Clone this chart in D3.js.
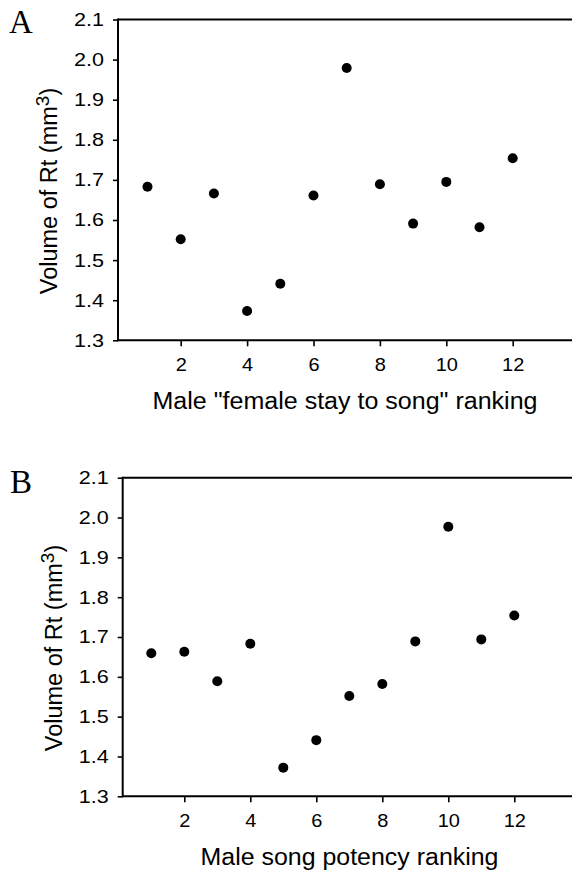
<!DOCTYPE html>
<html>
<head>
<meta charset="utf-8">
<script src="https://cdn.jsdelivr.net/npm/d3@7"></script>
<style>
  html, body { margin: 0; padding: 0; background: #fff; }
  svg { display: block; }
  text { font-family: "Liberation Sans", Arial, sans-serif; fill: #000; }
</style>
</head>
<body>
<svg id="chart" width="572" height="874"></svg>
<script>
// ---- data ----
const rankA = [1, 2, 3, 4, 5, 6, 7, 8, 9, 10, 11, 12];
const volumeA = [1.683, 1.552, 1.666, 1.373, 1.441, 1.661, 1.979, 1.689, 1.591, 1.695, 1.582, 1.754];
const rankB = [1, 2, 3, 4, 5, 6, 7, 8, 9, 10, 11, 12];
const volumeB = [1.659, 1.663, 1.589, 1.683, 1.372, 1.441, 1.552, 1.582, 1.689, 1.977, 1.694, 1.754];
const xTicks = [2, 4, 6, 8, 10, 12];
const yTicks = [1.3, 1.4, 1.5, 1.6, 1.7, 1.8, 1.9, 2.0, 2.1];
const xTitleA = 'Male "female stay to song" ranking';
const xTitleB = 'Male song potency ranking';
const yTitle = 'Volume of Rt (mm';

const svg = d3.select("#chart");
const W = 572;

function panel(cfg) {
  const g = svg.append("g");
  const x = d3.scaleLinear().domain([0, 14]).range([cfg.x0, cfg.x0 + cfg.unit * 14]);
  const y = d3.scaleLinear().domain([1.3, 2.1]).range([cfg.bottom, cfg.top]);

  // x axis
  const xa = g.append("g").attr("transform", `translate(0,${cfg.bottom})`)
    .call(d3.axisBottom(x).tickValues(xTicks).tickFormat(d3.format("d")).tickSize(6).tickPadding(12));
  xa.select(".domain").remove();
  xa.selectAll(".tick line").attr("stroke", "#000").attr("stroke-width", 1.6);
  xa.selectAll(".tick text").style("font-size", "18.5px")
    .each(function() { const l = this.getComputedTextLength(); d3.select(this).attr("textLength", l * 1.08).attr("lengthAdjust", "spacingAndGlyphs"); });

  // y axis
  const ya = g.append("g").attr("transform", `translate(${cfg.left},0)`)
    .call(d3.axisLeft(y).tickValues(yTicks).tickFormat(d3.format(".1f")).tickSize(5).tickPadding(9));
  ya.select(".domain").remove();
  ya.selectAll(".tick line").attr("stroke", "#000").attr("stroke-width", 1.6);
  ya.selectAll(".tick text").style("font-size", "18.5px")
    .attr("textLength", 30).attr("lengthAdjust", "spacingAndGlyphs");

  // frame lines (left, bottom, top)
  g.append("line").attr("x1", cfg.left).attr("x2", cfg.left).attr("y1", cfg.top - 1).attr("y2", cfg.bottom + 1)
    .attr("stroke", "#000").attr("stroke-width", 2);
  g.append("line").attr("x1", cfg.left).attr("x2", W).attr("y1", cfg.bottom).attr("y2", cfg.bottom)
    .attr("stroke", "#000").attr("stroke-width", 2);
  g.append("line").attr("x1", cfg.left).attr("x2", W).attr("y1", cfg.top).attr("y2", cfg.top)
    .attr("stroke", "#000").attr("stroke-width", 2);

  // points
  g.selectAll("circle").data(cfg.xs.map((d, i) => [d, cfg.ys[i]])).join("circle")
    .attr("cx", d => x(d[0])).attr("cy", d => y(d[1])).attr("r", 5).attr("fill", "#000");

  // x title
  g.append("text").attr("x", cfg.xTitleX).attr("y", cfg.bottom + 69).attr("text-anchor", "middle")
    .style("font-size", "23.5px").attr("textLength", cfg.xTitleLen).attr("lengthAdjust", "spacingAndGlyphs")
    .text(cfg.xTitle);

  // y title
  const yt = g.append("text")
    .attr("transform", `translate(${cfg.yTitleX},${cfg.yTitleY}) rotate(-90)`)
    .attr("text-anchor", "middle").style("font-size", "23.5px");
  yt.append("tspan").text(yTitle);
  yt.append("tspan").attr("dy", "-0.42em").style("font-size", "19px").text("3");
  yt.append("tspan").attr("dy", "0.34em").text(")");

  // panel letter
  g.append("text").attr("x", cfg.letterX).attr("y", cfg.letterY)
    .style("font-family", '"Liberation Serif", "Times New Roman", serif').style("font-size", "33px")
    .text(cfg.letter);
}

panel({ letter: "A", letterX: 9, letterY: 33, left: 118, top: 19.5, bottom: 340.3, x0: 114.3, unit: 33.2,
  xs: rankA, ys: volumeA, xTitle: xTitleA, xTitleX: 345, xTitleLen: 385, yTitleX: 57, yTitleY: 191 });
panel({ letter: "B", letterX: 10, letterY: 493, left: 122.7, top: 477.7, bottom: 796.3, x0: 118.3, unit: 33.0,
  xs: rankB, ys: volumeB, xTitle: xTitleB, xTitleX: 349.5, xTitleLen: 298, yTitleX: 62, yTitleY: 648 });
</script>
</body>
</html>
